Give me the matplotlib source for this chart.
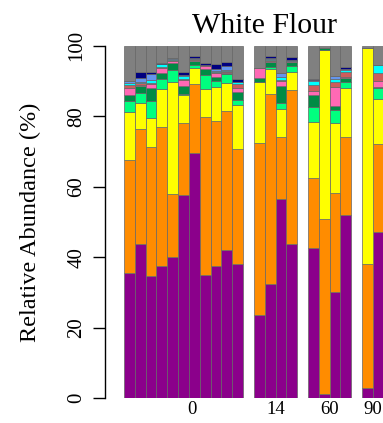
import numpy as np
import matplotlib
matplotlib.use("Agg")
import matplotlib.pyplot as plt

plt.rcParams['font.family'] = ['Liberation Serif', 'DejaVu Serif']

# sampling days and number of samples in each
days = ['0', '14', '60', '90']
n_samples = [11, 4, 4, 2]

# taxa, bottom to top of each stack
taxa = ['t1', 't2', 't3', 't4', 't5', 't6', 't7', 't8', 't9', 't10', 'other']
colors = ['#8b008b', '#ff8c00', '#ffff00', '#00ff7f', '#008b45', '#ff69b4',
          '#cd5c5c', '#00ffff', '#6495ed', '#000080', '#808080']

# relative abundance (%) of each taxon per sample
t1 = [35.6, 43.8, 34.6, 37.4, 40.2, 57.7, 69.7, 34.9, 37.6, 42.1, 38.0,
      23.5, 32.3, 56.5, 43.9, 42.7, 1.2, 30.1, 52.0, 3.0, 47.2]
t2 = [32.1, 32.5, 36.6, 39.5, 17.7, 20.5, 19.3, 44.8, 41.0, 39.4, 32.6,
      49.0, 54.0, 17.5, 43.5, 19.9, 49.6, 28.0, 22.0, 35.1, 24.9]
t3 = [13.6, 7.4, 8.2, 10.8, 31.9, 7.8, 4.6, 7.9, 9.8, 8.0, 12.6,
      17.3, 7.0, 8.0, 5.2, 15.8, 48.0, 20.1, 14.1, 61.2, 12.7]
t4 = [3.1, 2.8, 5.0, 2.8, 3.3, 0.3, 0.9, 4.1, 1.6, 2.4, 1.4,
      0.0, 0.8, 1.8, 1.6, 4.3, 0.0, 3.6, 1.5, 0.0, 3.1]
t5 = [1.6, 2.1, 3.7, 1.7, 1.9, 2.3, 1.3, 1.6, 1.2, 0.3, 2.4,
      1.1, 1.2, 4.9, 1.3, 3.3, 0.5, 1.2, 1.2, 0.0, 0.5]
t6 = [1.9, 0.3, 0.9, 1.6, 0.8, 1.6, 0.2, 0.9, 1.0, 0.2, 0.9,
      2.9, 0.5, 1.4, 0.1, 1.2, 0.0, 5.2, 0.2, 0.0, 1.7]
t7 = [1.0, 0.4, 0.3, 0.3, 0.2, 0.4, 0.2, 0.2, 0.3, 0.5, 1.1,
      0.0, 0.2, 0.3, 0.1, 1.7, 0.0, 1.4, 1.5, 0.0, 2.1]
t8 = [0.6, 0.3, 1.0, 0.7, 0.2, 0.9, 0.1, 0.1, 0.2, 0.2, 0.6,
      0.0, 0.1, 0.8, 0.1, 1.2, 0.0, 1.0, 0.6, 0.0, 2.3]
t9 = [0.5, 1.2, 1.6, 0.1, 0.4, 0.2, 0.3, 0.1, 0.6, 1.1, 0.2,
      0.0, 0.5, 1.0, 0.2, 0.2, 0.0, 0.8, 0.2, 0.0, 0.0]
t10 = [0.0, 1.7, 0.7, 0.1, 0.0, 0.8, 0.6, 0.4, 1.4, 1.3, 0.8,
       0.0, 0.5, 0.0, 0.8, 0.2, 0.0, 0.0, 0.8, 0.0, 0.0]
other = [10.0, 7.5, 7.4, 5.0, 3.4, 7.5, 2.8, 5.0, 5.3, 4.5, 9.4,
         6.2, 2.9, 7.8, 3.2, 9.5, 0.7, 8.6, 5.9, 0.7, 5.5]

abund = np.array([t1, t2, t3, t4, t5, t6, t7, t8, t9, t10, other])

# bar positions: one empty slot between days
pos = []
start = 0
for n in n_samples:
    pos.extend(range(start, start + n))
    start += n + 1
pos = np.array(pos, dtype=float)

W, H = 383, 423
fig = plt.figure(figsize=(W / 100, H / 100), dpi=100)
ax = fig.add_axes([105 / W, (H - 398.3) / H, 278.7 / W, 352.6 / H])

bottom = np.zeros(len(pos))
for vals, col in zip(abund, colors):
    ax.bar(pos, vals, width=1.0, bottom=bottom, align='edge', color=col,
           edgecolor='#666666', linewidth=0.5)
    bottom += vals

ax.set_xlim(-1.76, 24)
ax.set_ylim(0, 100)

for s in ['top', 'right', 'bottom']:
    ax.spines[s].set_visible(False)
ax.spines['left'].set_bounds(0, 100)
ax.spines['left'].set_linewidth(1.0)

ax.set_yticks([0, 20, 40, 60, 80, 100])
ax.tick_params(axis='y', length=8.6, width=1.0, pad=11.5, labelsize=15)
for lab in ax.get_yticklabels():
    lab.set_rotation(90)
    lab.set_va('center')
    lab.set_ha('center')

# day labels under each block of samples
ax.set_xticks([6.3, 14, 19, 23])
ax.set_xticklabels(days)
ax.tick_params(axis='x', length=0, pad=2, labelsize=13.5)

ax.set_title('White Flour', fontsize=21.5, pad=9, x=0.574)
fig.text(30 / W, 1 - 222 / H, 'Relative Abundance (%)', rotation=90,
         ha='center', va='center', fontsize=17.5)

fig.savefig('out.png', dpi=100)
